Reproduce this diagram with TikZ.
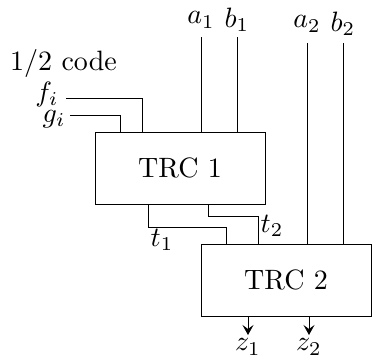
\documentclass[tikz,border=0pt]{standalone}
\usetikzlibrary{arrows.meta}
\begin{document}
\begin{tikzpicture}[x=1pt,y=-1pt,line width=0.8pt,
  blk/.style={draw,rectangle,inner sep=0pt},
  lbl/.style={inner sep=0pt,scale=2.8},
  outarrow/.style={-{Stealth[length=10pt,width=11pt,inset=4pt]}}]
\useasboundingbox (0,0) rectangle (373,362);
% boxes
\node[blk,minimum width=170pt,minimum height=72pt] (trc1) at (180,168) {};
\node[blk,minimum width=170pt,minimum height=72pt] (trc2) at (286,280) {};
\node[lbl] (trc1t) at (trc1.center) {TRC 1};
\node[lbl] (trc2t) at (trc2.center) {TRC 2};
% labels
\node[lbl] (code) at (63.5,63) {1/2 code};
\node[lbl,anchor=base] (fi) at (47,101) {$f_i$};
\node[lbl,anchor=base] (gi) at (54,122) {$g_i$};
\node[lbl] (a1) at (201,20) {$a_1$};
\node[lbl] (b1) at (237,20) {$b_1$};
\node[lbl] (a2) at (307,24) {$a_2$};
\node[lbl] (b2) at (343,24) {$b_2$};
\node[lbl] (t1) at (162,240) {$t_1$};
\node[lbl] (t2) at (272,226) {$t_2$};
\node[lbl] (z1) at (248,347) {$z_1$};
\node[lbl] (z2) at (309,347) {$z_2$};
% connector end points
\coordinate (fs) at (66,98);
\coordinate (gs) at (70,115);
\coordinate (fin) at (142,132);
\coordinate (gin) at (120,132);
\coordinate (a1s) at (201,37);
\coordinate (b1s) at (237,37);
\coordinate (a2s) at (307,43);
\coordinate (b2s) at (343,43);
\coordinate (t1o) at (148,204);
\coordinate (t2o) at (208,204);
\coordinate (t1i) at (226,244);
\coordinate (t2i) at (258,244);
\coordinate (z1o) at (248,316);
\coordinate (z2o) at (309,316);
\coordinate (z1e) at (248,335);
\coordinate (z2e) at (309,335);
% connectors
\draw (fs) -| (fin);
\draw (gs) -| (gin);
\draw (a1s) -- (a1s |- trc1.north);
\draw (b1s) -- (b1s |- trc1.north);
\draw (a2s) -- (a2s |- trc2.north);
\draw (b2s) -- (b2s |- trc2.north);
\draw (t1o) |- (226,227) -- (t1i);
\draw (t2o) |- (258,216) -- (t2i);
\draw[outarrow] (z1o) -- (z1e);
\draw[outarrow] (z2o) -- (z2e);
\end{tikzpicture}
\end{document}
